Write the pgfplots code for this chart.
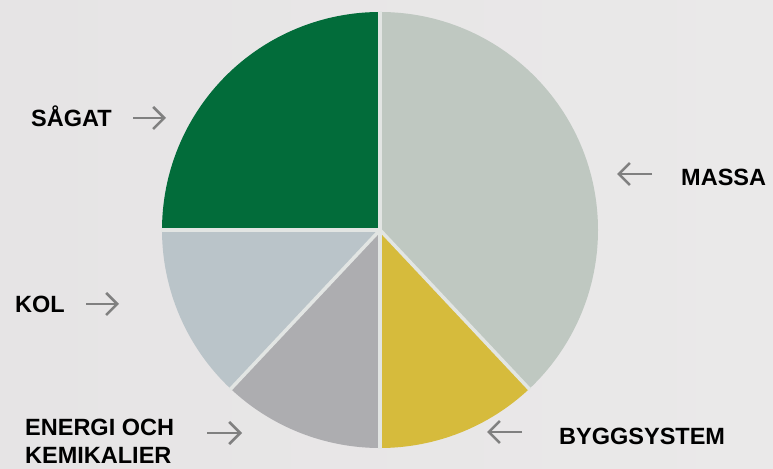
\documentclass[border=0pt]{standalone}
\usepackage{pgfplots}
\pgfplotsset{compat=1.18}
\usepackage{pgfplotstable}
\usepackage{fontspec}
\setmainfont{Liberation Sans}
\usetikzlibrary{arrows.meta}

% shares, clockwise from 12 o'clock
\pgfplotstableread[col sep=comma]{
label,value
MASSA,38
BYGGSYSTEM,12
ENERGI OCH KEMIKALIER,12
KOL,13
SÅGAT,25
}\piedata

\definecolor{sec0}{RGB}{191,200,193}
\definecolor{sec1}{RGB}{214,187,60}
\definecolor{sec2}{RGB}{173,173,176}
\definecolor{sec3}{RGB}{186,196,201}
\definecolor{sec4}{RGB}{2,108,58}
\definecolor{sepcol}{RGB}{226,229,227}
\definecolor{bgL}{RGB}{230,228,229}
\definecolor{bgM}{RGB}{218,214,215}
\definecolor{bgR}{RGB}{234,233,233}
\definecolor{arr}{RGB}{128,128,128}

\begin{document}
\begin{tikzpicture}
\begin{axis}[
    width=773bp, height=469bp,
    scale only axis,
    xmin=0, xmax=773, ymin=0, ymax=469,
    hide axis,
    clip=false,
]
\pgfplotsextra{%
  \fill[left color=bgL, middle color=bgM, right color=bgR]
    (axis cs:0,0) rectangle (axis cs:773,469);
  % sectors
  \gdef\pieangle{90}%
  \foreach \i in {0,...,4}{%
    \pgfplotstablegetelem{\i}{value}\of\piedata
    \pgfmathsetmacro\piedelta{\pgfplotsretval*3.6}%
    \fill[sec\i] (axis cs:380,239) -- ++(\pieangle:218bp)
      arc[start angle=\pieangle, delta angle=-\piedelta, radius=218bp] -- cycle;
    \pgfmathsetmacro\pienext{\pieangle-\piedelta}%
    \xdef\pieangle{\pienext}%
  }%
  % white gaps between sectors
  \gdef\pieangle{90}%
  \foreach \i in {0,...,4}{%
    \draw[sepcol, line width=3.5bp] (axis cs:380,239) -- ++(\pieangle:219bp);
    \pgfplotstablegetelem{\i}{value}\of\piedata
    \pgfmathsetmacro\pienext{\pieangle-\pgfplotsretval*3.6}%
    \xdef\pieangle{\pienext}%
  }%
}
\begin{scope}[font=\fontsize{23.5bp}{27bp}\selectfont\bfseries, inner sep=0pt,
    arrs/.style={arr, line width=2.6bp, -{Straight Barb[length=11bp,width=22bp]}}]
  \node[anchor=base west] at (axis cs:31,342) {SÅGAT};
  \node[anchor=base west] at (axis cs:15,156) {KOL};
  \node[anchor=base west] at (axis cs:681,283) {MASSA};
  \node[anchor=base west] at (axis cs:25,33) {ENERGI OCH};
  \node[anchor=base west] at (axis cs:25,6) {KEMIKALIER};
  \node[anchor=base west] at (axis cs:559,25) {BYGGSYSTEM};
  \draw[arrs] (axis cs:133,351) -- (axis cs:166,351);
  \draw[arrs] (axis cs:86,165) -- (axis cs:119,165);
  \draw[arrs] (axis cs:207,36) -- (axis cs:242,36);
  \draw[arrs] (axis cs:652,295) -- (axis cs:617,295);
  \draw[arrs] (axis cs:522,37) -- (axis cs:487,37);
\end{scope}
\end{axis}
\end{tikzpicture}
\end{document}
